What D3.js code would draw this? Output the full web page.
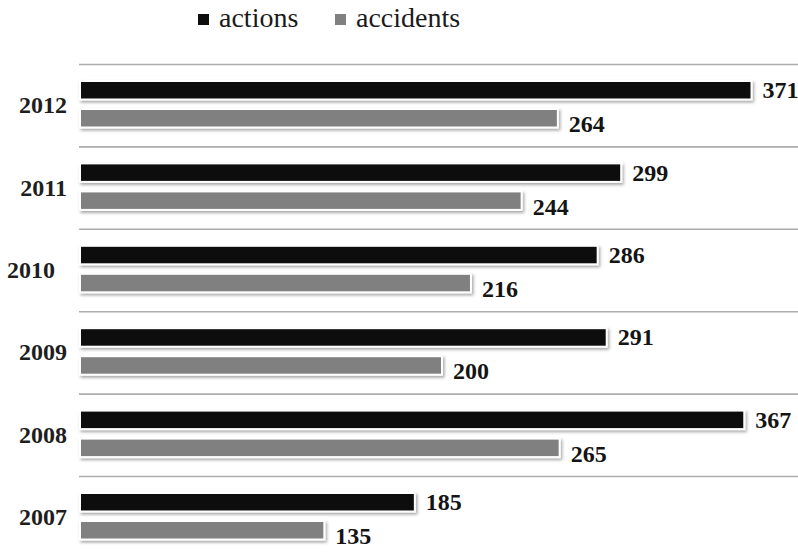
<!DOCTYPE html>
<html>
<head>
<meta charset="utf-8">
<script src="https://cdn.jsdelivr.net/npm/d3@7"></script>
<style>
  body { margin: 0; background: #fff; }
  svg text { font-family: "Liberation Serif", "Times New Roman", "DejaVu Serif", serif; }
  .year { white-space: pre; }
</style>
</head>
<body>
<script>
// data, top row first
var years = ["2012", "2011", "2010", "2009", "2008", "2007"];
var yearLabels = ["2012", "2011", "2010  ", "2009", "2008", "2007"];
var series = ["actions", "accidents"];
var actions = [371, 299, 286, 291, 367, 185];
var accidents = [264, 244, 216, 200, 265, 135];

var width = 798, height = 552;
var colors = { actions: "#0d0d0d", accidents: "#808080" };

var svg = d3.select("body").append("svg")
    .attr("width", width)
    .attr("height", height)
    .style("display", "block");

var defs = svg.append("defs");
var shadow = defs.append("filter")
    .attr("id", "shadow")
    .attr("x", "-5%").attr("y", "-50%")
    .attr("width", "110%").attr("height", "200%");
shadow.append("feDropShadow")
    .attr("dx", 1.5).attr("dy", 2)
    .attr("stdDeviation", 1.4)
    .attr("flood-color", "#000")
    .attr("flood-opacity", 0.35);

var x = d3.scaleLinear().domain([0, 400]).range([80, 804]);
var y = d3.scaleBand().domain(years).range([64, 64 + 6 * 82.4]);
var inner = d3.scaleBand().domain(series).range([17, 63.5]).paddingInner(0.34);

var rows = years.map(function(yr, i) {
  return { year: yr, label: yearLabels[i], actions: actions[i], accidents: accidents[i] };
});

// grid lines between groups
svg.append("g").selectAll("line")
  .data(years)
  .enter().append("line")
    .attr("x1", 79).attr("x2", width)
    .attr("y1", function(d) { return y(d) + 0.5; })
    .attr("y2", function(d) { return y(d) + 0.5; })
    .attr("stroke", "#adadad")
    .attr("stroke-width", 1.6);

// year labels
svg.append("g").selectAll("text")
  .data(rows)
  .enter().append("text")
    .attr("class", "year")
    .attr("x", 67)
    .attr("y", function(d) { return y(d.year) + y.bandwidth() / 2 + 8; })
    .attr("text-anchor", "end")
    .attr("font-size", 24)
    .attr("font-weight", "bold")
    .attr("fill", "#1e1e1e")
    .text(function(d) { return d.label; });

var groups = svg.append("g").selectAll("g")
  .data(rows)
  .enter().append("g")
    .attr("transform", function(d) { return "translate(0," + y(d.year) + ")"; });

groups.selectAll("rect")
  .data(function(d) { return series.map(function(s) { return { key: s, value: d[s] }; }); })
  .enter().append("rect")
    .attr("x", x(0))
    .attr("y", function(d) { return inner(d.key); })
    .attr("width", function(d) { return x(d.value) - x(0); })
    .attr("height", inner.bandwidth())
    .attr("fill", function(d) { return colors[d.key]; })
    .attr("stroke", "#fff")
    .attr("stroke-width", 2)
    .attr("filter", "url(#shadow)");

groups.selectAll("text")
  .data(function(d) { return series.map(function(s) { return { key: s, value: d[s] }; }); })
  .enter().append("text")
    .attr("x", function(d) { return x(d.value) + 11; })
    .attr("y", function(d) {
      var c = inner(d.key) + inner.bandwidth() / 2;
      return d.key === "actions" ? c + 8 : c + 14;
    })
    .attr("font-size", 24)
    .attr("font-weight", "bold")
    .attr("fill", "#141414")
    .text(function(d) { return d.value; });

// legend
var legendX = [198, 335];
var legend = svg.append("g").selectAll("g")
  .data(series)
  .enter().append("g")
    .attr("transform", function(d, i) { return "translate(" + legendX[i] + ",0)"; });

legend.append("rect")
    .attr("x", 0).attr("y", 14)
    .attr("width", 11).attr("height", 11)
    .attr("fill", function(d) { return colors[d]; });

legend.append("text")
    .attr("x", 21).attr("y", 27)
    .attr("font-size", 28)
    .attr("fill", "#1a1a1a")
    .text(function(d) { return d; });
</script>
</body>
</html>
